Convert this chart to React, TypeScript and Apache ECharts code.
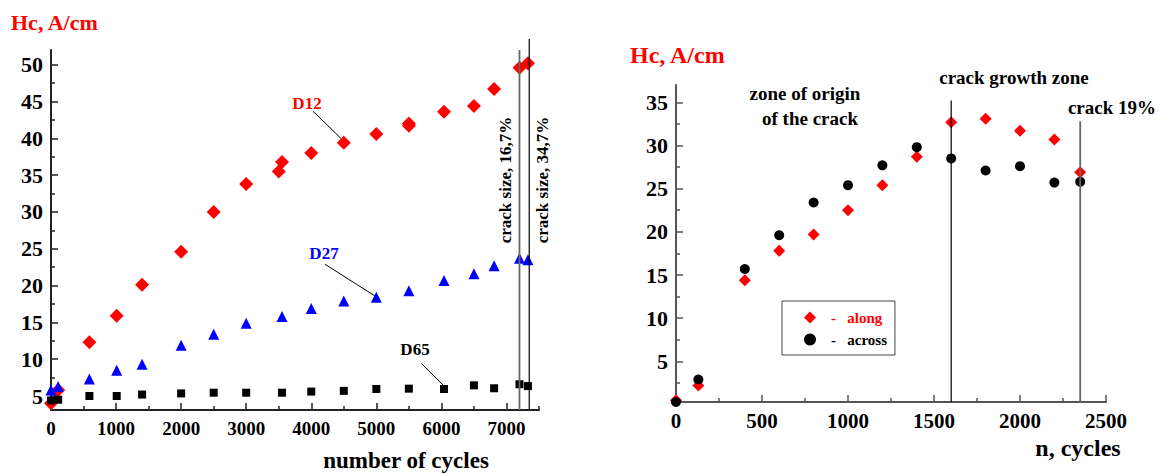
import { useEffect, useRef } from 'react';
import * as echarts from 'echarts';

// ---------- Left chart data ----------
const d12Cycles = [0, 110, 590, 1010, 1400, 2000, 2500, 3000, 3500, 3550, 4000, 4500, 5000, 5500, 5500, 6040, 6500, 6810, 7200, 7330];
const d12Hc = [4.0, 5.8, 12.3, 15.9, 20.1, 24.6, 30.0, 33.8, 35.5, 36.8, 38.0, 39.4, 40.6, 41.7, 42.0, 43.6, 44.4, 46.7, 49.6, 50.2];

const d27Cycles = [0, 110, 590, 1010, 1400, 2000, 2500, 3000, 3550, 4000, 4500, 5000, 5500, 6040, 6500, 6810, 7200, 7330];
const d27Hc = [5.8, 6.3, 7.3, 8.5, 9.3, 11.9, 13.4, 14.9, 15.8, 16.9, 17.9, 18.4, 19.3, 20.7, 21.6, 22.7, 23.7, 23.5];

const d65Cycles = [0, 110, 590, 1010, 1400, 2000, 2500, 3000, 3550, 4000, 4500, 5000, 5500, 6040, 6500, 6810, 7200, 7330];
const d65Hc = [4.4, 4.5, 5.0, 5.0, 5.2, 5.35, 5.45, 5.45, 5.45, 5.6, 5.7, 5.95, 6.0, 5.95, 6.45, 6.05, 6.6, 6.35];

const crackCycles = [7200, 7350];
const crackTops = [52, 53.5];
const crackLabels = ['crack size, 16,7%', 'crack size, 34,7%'];

// leader lines (data coords) for labels D12, D27, D65
const leaderD12 = [[4025, 43.7], [4455, 40.0]];
const leaderD27 = [[4210, 22.9], [4977, 18.6]];
const leaderD65 = [[5694, 9.4], [6026, 6.5]];

const leftXMajor = [0, 1000, 2000, 3000, 4000, 5000, 6000, 7000];
const leftXMinor = [500, 1500, 2500, 3500, 4500, 5500, 6500, 7500];
const leftYMajor = [5, 10, 15, 20, 25, 30, 35, 40, 45, 50];
const leftYMinor = [7.5, 12.5, 17.5, 22.5, 27.5, 32.5, 37.5, 42.5, 47.5];

// ---------- Right chart data ----------
const nCycles = [0, 130, 400, 600, 800, 1000, 1200, 1400, 1600, 1800, 2000, 2200, 2350];
const alongHc = [0.5, 2.2, 14.4, 17.8, 19.7, 22.5, 25.4, 28.7, 32.7, 33.1, 31.7, 30.7, 26.9];
const acrossHc = [0.3, 2.9, 15.7, 19.6, 23.4, 25.4, 27.7, 29.8, 28.5, 27.1, 27.6, 25.7, 25.8];

const zoneCycles = [1600, 2350];
const zoneTops = [35.2, 32.8];

const rightXMajor = [0, 500, 1000, 1500, 2000, 2500];
const rightXMinor = [250, 750, 1250, 1750, 2250];
const rightYMajor = [5, 10, 15, 20, 25, 30, 35];
const rightYMinor = [2.5, 7.5, 12.5, 17.5, 22.5, 27.5, 32.5];

const FONT = '"Liberation Serif", "Times New Roman", serif';

const zip = (xs: number[], ys: number[]) => xs.map((x, i) => [x, ys[i]]);

function axisPair(
  gridIndex: number,
  position: string,
  min: number,
  max: number,
  major: number[],
  minor: number[],
  labelSize: number,
  lineColor: string,
  labelMargin: number
) {
  const majorAxis: any = {
    type: 'value',
    gridIndex,
    position,
    min,
    max,
    splitLine: { show: false },
    axisLine: { show: true, onZero: false, lineStyle: { color: lineColor, width: 2 } },
    axisTick: { show: true, inside: true, length: 7, customValues: major, lineStyle: { color: lineColor, width: 1.5 } },
    axisLabel: {
      show: true,
      customValues: major,
      margin: labelMargin,
      color: '#000',
      fontFamily: FONT,
      fontWeight: 'bold',
      fontSize: labelSize,
      formatter: (v: number) => String(v),
    },
  };
  const minorAxis: any = {
    type: 'value',
    gridIndex,
    position,
    min,
    max,
    splitLine: { show: false },
    axisLine: { show: false, onZero: false },
    axisTick: { show: true, inside: true, length: 4, customValues: minor, lineStyle: { color: lineColor, width: 1.5 } },
    axisLabel: { show: false },
  };
  return [majorAxis, minorAxis];
}

function vline(name: string, x: number, y0: number, y1: number, xi: number, yi: number, color: string, width: number) {
  return {
    name,
    type: 'line',
    xAxisIndex: xi,
    yAxisIndex: yi,
    data: [[x, y0], [x, y1]],
    symbol: 'none',
    clip: false,
    silent: true,
    lineStyle: { color, width },
    z: 5,
  };
}

function leader(name: string, pts: number[][]) {
  return {
    name,
    type: 'line',
    xAxisIndex: 0,
    yAxisIndex: 0,
    data: pts,
    symbol: 'none',
    clip: false,
    silent: true,
    lineStyle: { color: '#000', width: 1 },
    z: 5,
  };
}

function txt(text: string, x: number, y: number, size: number, color: string, align = 'left', rotation = 0) {
  return {
    type: 'text',
    x,
    y,
    rotation,
    silent: true,
    style: {
      text,
      fill: color,
      fontFamily: FONT,
      fontWeight: 'bold',
      fontSize: size,
      align,
      verticalAlign: 'middle',
    },
  };
}

export default function App() {
  const ref = useRef<HTMLDivElement>(null);

  useEffect(() => {
    if (!ref.current) return;
    const chart = echarts.init(ref.current, null, { renderer: 'svg' });

    const [lx0, lx1] = axisPair(0, 'bottom', 0, 7500, leftXMajor, leftXMinor, 19, '#222', 9);
    const [ly0, ly1] = axisPair(0, 'left', 3.1, 52, leftYMajor, leftYMinor, 22, '#222', 8);
    const [rx0, rx1] = axisPair(1, 'bottom', 0, 2500, rightXMajor, rightXMinor, 21, '#555', 8);
    const [ry0, ry1] = axisPair(1, 'left', 0.3, 37, rightYMajor, rightYMinor, 22, '#555', 8);

    const option: any = {
      animation: false,
      backgroundColor: '#fff',
      grid: [
        { left: 51, top: 50, width: 488, height: 360, containLabel: false },
        { left: 676, top: 85, width: 430, height: 317, containLabel: false },
      ],
      xAxis: [lx0, lx1, rx0, rx1],
      yAxis: [ly0, ly1, ry0, ry1],
      legend: {
        show: true,
        orient: 'vertical',
        left: 782,
        top: 301,
        padding: [9, 8, 8, 22],
        itemWidth: 12,
        itemHeight: 12,
        itemGap: 7,
        symbolKeepAspect: true,
        borderColor: '#444',
        borderWidth: 1,
        backgroundColor: '#fff',
        selectedMode: false,
        formatter: (n: string) => '-   ' + n,
        textStyle: { fontFamily: FONT, fontWeight: 'bold', fontSize: 15, padding: [0, 0, 0, 10] },
        data: [
          { name: 'along', textStyle: { color: '#ff0000' } },
          { name: 'across', textStyle: { color: '#000000' } },
        ],
      },
      series: [
        {
          name: 'D12', type: 'scatter', xAxisIndex: 0, yAxisIndex: 0, clip: false,
          symbol: 'diamond', symbolSize: 14, itemStyle: { color: '#ff0000', opacity: 1 },
          data: zip(d12Cycles, d12Hc),
        },
        {
          name: 'D27', type: 'scatter', xAxisIndex: 0, yAxisIndex: 0, clip: false,
          symbol: 'triangle', symbolSize: 11, itemStyle: { color: '#0000ff', opacity: 1 },
          data: zip(d27Cycles, d27Hc),
        },
        {
          name: 'D65', type: 'scatter', xAxisIndex: 0, yAxisIndex: 0, clip: false,
          symbol: 'rect', symbolSize: 8, itemStyle: { color: '#000000', opacity: 1 },
          data: zip(d65Cycles, d65Hc),
        },
        vline('crack1', crackCycles[0], 3.1, crackTops[0], 0, 0, '#666', 1.8),
        vline('crack2', crackCycles[1], 3.1, crackTops[1], 0, 0, '#000', 1.2),
        leader('leadD12', leaderD12),
        leader('leadD27', leaderD27),
        leader('leadD65', leaderD65),
        {
          name: 'along', type: 'scatter', xAxisIndex: 2, yAxisIndex: 2, clip: false,
          symbol: 'diamond', symbolSize: 12, itemStyle: { color: '#ff0000', opacity: 1 },
          data: zip(nCycles, alongHc),
        },
        {
          name: 'across', type: 'scatter', xAxisIndex: 2, yAxisIndex: 2, clip: false,
          symbol: 'circle', symbolSize: 10, itemStyle: { color: '#000000', opacity: 1 },
          data: zip(nCycles, acrossHc),
        },
        vline('zone1', zoneCycles[0], 0.3, zoneTops[0], 2, 2, '#000', 1.2),
        vline('zone2', zoneCycles[1], 0.3, zoneTops[1], 2, 2, '#666', 1.8),
      ],
      graphic: [
        txt('Hc, A/cm', 11, 22, 22, '#ff0000'),
        txt('Hc, A/cm', 630, 55, 24, '#ff0000'),
        txt('D12', 307, 103, 17, '#ff0000', 'center'),
        txt('D27', 324, 253, 17, '#0000ff', 'center'),
        txt('D65', 415, 349, 17, '#000', 'center'),
        txt(crackLabels[0], 505, 180, 17, '#000', 'center', Math.PI / 2),
        txt(crackLabels[1], 542, 180, 17, '#000', 'center', Math.PI / 2),
        txt('number of cycles', 406, 460, 23, '#000', 'center'),
        txt('n, cycles', 1078, 448, 24, '#000', 'center'),
        txt('zone of origin', 805, 93, 19, '#000', 'center'),
        txt('of the crack', 810, 118, 19, '#000', 'center'),
        txt('crack growth zone', 1014, 77, 19, '#000', 'center'),
        txt('crack 19%', 1112, 107, 19, '#000', 'center'),
      ],
    };

    chart.setOption(option);
    return () => chart.dispose();
  }, []);

  return (
    <div
      ref={ref}
      style={{ position: 'absolute', left: 0, top: 0, width: 1161, height: 475, background: '#fff' }}
    />
  );
}
